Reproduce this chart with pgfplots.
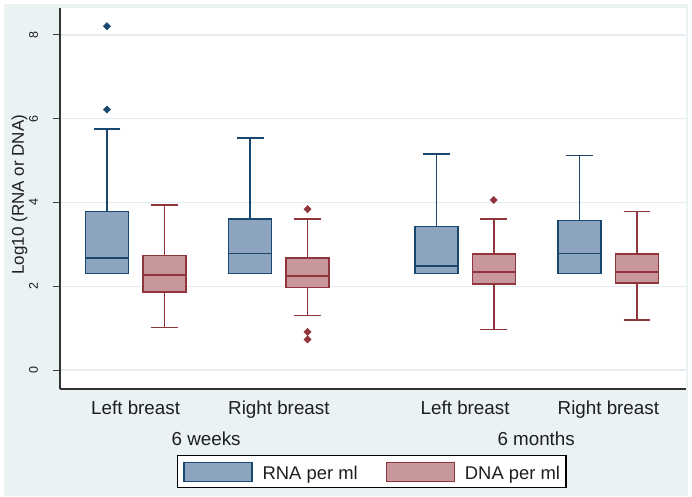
\documentclass[border=0pt]{standalone}
\usepackage{fontspec}
\setmainfont{Liberation Sans}
\usepackage{pgfplots}
\pgfplotsset{compat=1.18}
\usepgfplotslibrary{statistics}
\definecolor{gbg}{RGB}{234,242,243}
\definecolor{gridc}{RGB}{228,236,240}
\definecolor{rnaedge}{RGB}{26,71,111}
\definecolor{rnafill}{RGB}{141,164,190}
\definecolor{dnaedge}{RGB}{144,53,59}
\definecolor{dnafill}{RGB}{200,151,155}
\definecolor{txt}{RGB}{30,30,30}
\pgfplotsset{
  rnastyle/.style={draw=rnaedge, fill=rnafill, line width=1.5bp, mark=square*, mark size=2.6bp,
     mark options={draw=rnaedge, fill=rnaedge, line width=0.4bp, rotate=45, solid}},
  dnastyle/.style={draw=dnaedge, fill=dnafill, line width=1.5bp, mark=square*, mark size=2.6bp,
     mark options={draw=dnaedge, fill=dnaedge, line width=0.4bp, rotate=45, solid}},
}
\begin{document}
\begin{tikzpicture}
\fill[white] (0bp,0bp) rectangle (692bp,497bp);
\fill[gbg] (4bp,1bp) rectangle (688bp,493bp);
\begin{axis}[
  at={(60bp,108bp)}, anchor=south west,
  scale only axis, width=626bp, height=381bp,
  xmin=-0.82, xmax=10.105, ymin=-0.4537, ymax=8.645,
  clip=false,
  boxplot/draw direction=y,
  axis background/.style={fill=white},
  axis x line*=bottom, axis y line*=left,
  x axis line style={-, draw=black!80, line width=1.3bp},
  y axis line style={-, draw=black!80, line width=1.3bp},
  ytick={0,2,4,6,8},
  tick align=outside, major tick length=7bp,
  ytick style={draw=black!75, line width=1bp},
  xtick style={draw=none},
  ymajorgrids, grid style={draw=gridc, line width=1.2bp},
  xtick={0.5,3,6.25,8.75},
  xticklabels={Left breast, Right breast, Left breast, Right breast},
  xticklabel style={font=\fontsize{18.8bp}{20bp}\selectfont, anchor=base, yshift=-18bp, text=txt, inner sep=0bp},
  /pgf/number format/assume math mode=true,
  yticklabel style={font=\fontsize{12.5bp}{14bp}\selectfont, rotate=90, anchor=center, yshift=19.5bp, text=txt, inner sep=0bp},
  ylabel={Log10 (RNA or DNA)},
  every axis y label/.style={at={(rel axis cs:0,0.51)}, rotate=90, anchor=center, yshift=40.5bp, font=\fontsize{17bp}{19bp}\selectfont, text=txt, inner sep=0bp},
  legend style={at={(0.498,-0.1732)}, anchor=north, legend columns=2, draw=black, line width=1.2bp, fill=white,
     inner xsep=6bp, inner ysep=6bp, font=\fontsize{18.4bp}{20bp}\selectfont, text=txt,
     nodes={inner sep=0bp},
     /tikz/every odd column/.append style={column sep=10bp},
     /tikz/every even column/.append style={column sep=28bp}},
]
% 6 weeks, Left breast
\addplot[forget plot, rnastyle, boxplot prepared={draw position=0, lower whisker=2.31, lower quartile=2.31, median=2.68, upper quartile=3.79, upper whisker=5.75, box extend=0.75, whisker extend=0.47}] coordinates {(0,8.21) (0,6.22)};
\addplot[forget plot, dnastyle, boxplot prepared={draw position=1, lower whisker=1.01, lower quartile=1.86, median=2.27, upper quartile=2.74, upper whisker=3.94, box extend=0.75, whisker extend=0.47}] coordinates {};
% 6 weeks, Right breast
\addplot[forget plot, rnastyle, boxplot prepared={draw position=2.5, lower whisker=2.31, lower quartile=2.31, median=2.78, upper quartile=3.60, upper whisker=5.54, box extend=0.75, whisker extend=0.47}] coordinates {};
\addplot[forget plot, dnastyle, boxplot prepared={draw position=3.5, lower whisker=1.30, lower quartile=1.97, median=2.24, upper quartile=2.67, upper whisker=3.60, box extend=0.75, whisker extend=0.47}] coordinates {(0,3.84) (0,0.91) (0,0.73)};
% 6 months, Left breast
\addplot[forget plot, rnastyle, boxplot prepared={draw position=5.75, lower whisker=2.31, lower quartile=2.31, median=2.48, upper quartile=3.43, upper whisker=5.16, box extend=0.75, whisker extend=0.47}] coordinates {};
\addplot[forget plot, dnastyle, boxplot prepared={draw position=6.75, lower whisker=0.97, lower quartile=2.05, median=2.34, upper quartile=2.77, upper whisker=3.60, box extend=0.75, whisker extend=0.47}] coordinates {(0,4.06)};
% 6 months, Right breast
\addplot[forget plot, rnastyle, boxplot prepared={draw position=8.25, lower whisker=2.31, lower quartile=2.31, median=2.78, upper quartile=3.57, upper whisker=5.12, box extend=0.75, whisker extend=0.47}] coordinates {};
\addplot[forget plot, dnastyle, boxplot prepared={draw position=9.25, lower whisker=1.19, lower quartile=2.08, median=2.34, upper quartile=2.77, upper whisker=3.79, box extend=0.75, whisker extend=0.47}] coordinates {};

\addlegendimage{legend image code/.code={\draw[draw=rnaedge, fill=rnafill, line width=1.2bp] (0bp,-7.5bp) rectangle (68bp,11.5bp);}}
\addlegendentry{RNA per ml}
\addlegendimage{legend image code/.code={\draw[draw=dnaedge, fill=dnafill, line width=1.2bp] (0bp,-7.5bp) rectangle (68bp,11.5bp);}}
\addlegendentry{DNA per ml}

\node[font=\fontsize{18.8bp}{20bp}\selectfont, anchor=base, text=txt, inner sep=0bp, yshift=-56bp] at (axis cs:1.73,-0.4537) {6 weeks};
\node[font=\fontsize{18.8bp}{20bp}\selectfont, anchor=base, text=txt, inner sep=0bp, yshift=-56bp] at (axis cs:7.49,-0.4537) {6 months};
\end{axis}
\end{tikzpicture}
\end{document}
